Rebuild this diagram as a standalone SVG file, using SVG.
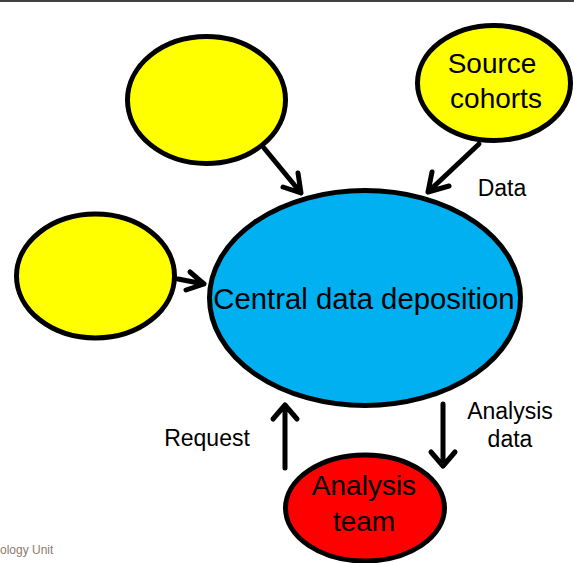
<svg xmlns="http://www.w3.org/2000/svg" width="574" height="563" viewBox="0 0 574 563">
  <style>
    .node { stroke: #000; stroke-width: 5; }
    .yellow { fill: #FFFF00; }
    .blue { fill: #00B0F0; }
    .red { fill: #FF0000; }
    .label { font-family: "Liberation Sans", Arial, sans-serif; fill: #000; text-anchor: middle; }
    .big { font-size: 28px; }
    .small { font-size: 23px; }
    .conn { stroke: #000; stroke-width: 5; fill: none; stroke-linecap: round; stroke-linejoin: round; }
    .footer { font-family: "Liberation Sans", Arial, sans-serif; font-size: 12px; fill: #8C7B70; }
  </style>
  <rect width="574" height="563" fill="#fff"/>
  <line x1="0" y1="1" x2="574" y2="1" stroke="#000" stroke-width="1.5"/>

  <g id="source-top-left">
    <ellipse class="node yellow" cx="206.5" cy="100" rx="79" ry="63.5"/>
  </g>
  <g id="source-cohorts">
    <ellipse class="node yellow" cx="494" cy="83" rx="76.5" ry="57.5"/>
    <text class="label big" x="492" y="73">Source</text>
    <text class="label big" x="496" y="108">cohorts</text>
  </g>
  <g id="source-left">
    <ellipse class="node yellow" cx="95.5" cy="276" rx="79" ry="62"/>
  </g>
  <g id="central">
    <ellipse class="node blue" cx="365" cy="298" rx="155.5" ry="107.5"/>
    <text class="label" x="364" y="309" font-size="29.3">Central data deposition</text>
  </g>
  <g id="analysis-team">
    <ellipse class="node red" cx="365" cy="508" rx="79.5" ry="53"/>
    <text class="label big" x="364" y="495">Analysis</text>
    <text class="label big" x="364" y="531">team</text>
  </g>

  <g id="connectors">
    <!-- top-left source to central -->
    <path class="conn" d="M264 148 L301 193 M283 187 L301 193 L298 173"/>
    <!-- source cohorts to central -->
    <path class="conn" d="M479 144 L428 192 M432 172 L428 192 L449 186"/>
    <!-- left source to central -->
    <path class="conn" d="M178 279 L204 284 M190 272 L204 284 L186 290"/>
    <!-- request: analysis team up to central -->
    <path class="conn" d="M285 468 L285 405 M273 419 L285 405 L297 419"/>
    <!-- analysis data: central down to analysis team -->
    <path class="conn" d="M443 404 L443 466 M431 452 L443 466 L455 452"/>
    <text class="label small" x="502" y="196">Data</text>
    <text class="label small" x="207" y="446">Request</text>
    <text class="label small" x="510" y="419">Analysis</text>
    <text class="label small" x="510" y="447">data</text>
  </g>

  <text class="footer" x="0" y="554">ology Unit</text>
</svg>
